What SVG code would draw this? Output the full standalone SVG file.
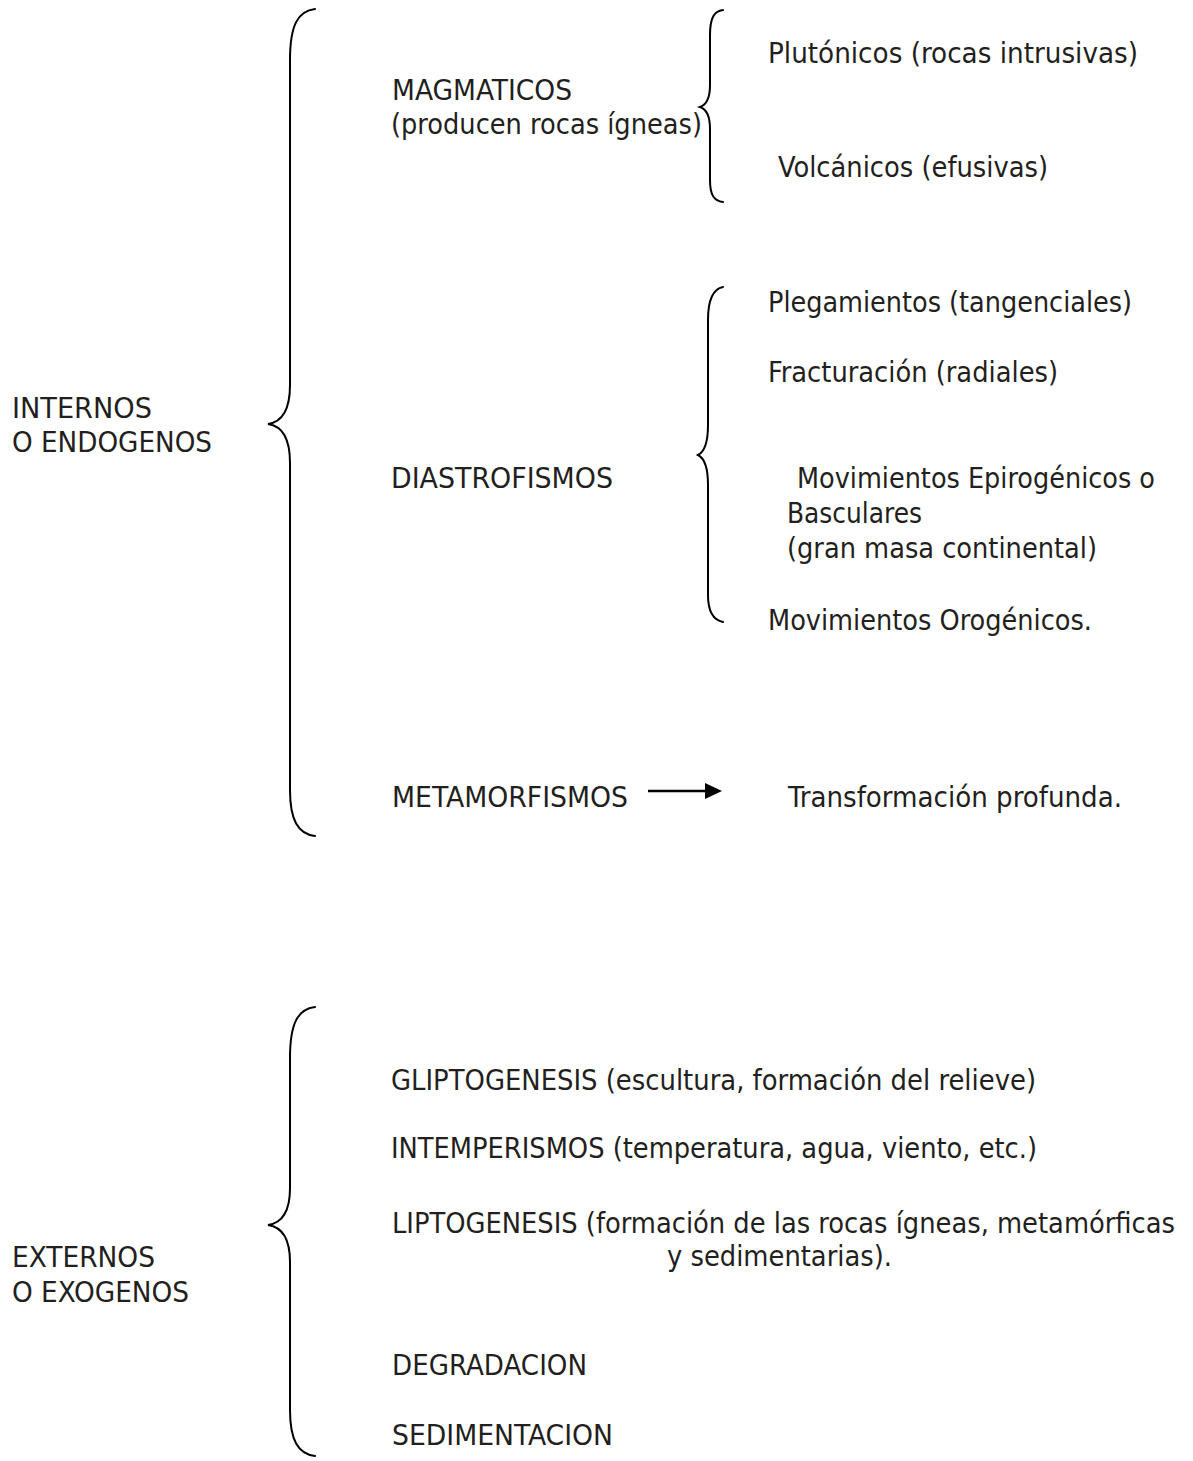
<svg xmlns="http://www.w3.org/2000/svg" width="1193" height="1461" viewBox="0 0 1193 1461">
<style>
text{font-family:"DejaVu Sans Condensed","DejaVu Sans",sans-serif;font-stretch:condensed;font-size:28px;fill:#231f20}
.br{fill:none;stroke:#000;stroke-width:2;stroke-linecap:round}
.ln{fill:none;stroke:#000;stroke-width:2.5}
</style>
<rect width="1193" height="1461" fill="#fff"/>
<g id="internos"><text x="12" y="418" textLength="140" lengthAdjust="spacingAndGlyphs">INTERNOS</text><text x="12" y="452" textLength="200" lengthAdjust="spacingAndGlyphs">O ENDOGENOS</text></g>
<g id="magmaticos"><text x="392" y="100" textLength="180" lengthAdjust="spacingAndGlyphs">MAGMATICOS</text><text x="391" y="134" textLength="311" lengthAdjust="spacingAndGlyphs">(producen rocas ígneas)</text></g>
<g id="plutonicos"><text x="768" y="63" textLength="370" lengthAdjust="spacingAndGlyphs">Plutónicos (rocas intrusivas)</text></g>
<g id="volcanicos"><text x="778" y="177" textLength="270" lengthAdjust="spacingAndGlyphs">Volcánicos (efusivas)</text></g>
<g id="diastrofismos"><text x="391" y="488" textLength="222" lengthAdjust="spacingAndGlyphs">DIASTROFISMOS</text></g>
<g id="plegamientos"><text x="768" y="312" textLength="364" lengthAdjust="spacingAndGlyphs">Plegamientos (tangenciales)</text></g>
<g id="fracturacion"><text x="768" y="382" textLength="290" lengthAdjust="spacingAndGlyphs">Fracturación (radiales)</text></g>
<g id="epirogenicos"><text x="797" y="488" textLength="358" lengthAdjust="spacingAndGlyphs">Movimientos Epirogénicos o</text><text x="787" y="523" textLength="135" lengthAdjust="spacingAndGlyphs">Basculares</text><text x="787" y="558" textLength="310" lengthAdjust="spacingAndGlyphs">(gran masa continental)</text></g>
<g id="orogenicos"><text x="768" y="630" textLength="324" lengthAdjust="spacingAndGlyphs">Movimientos Orogénicos.</text></g>
<g id="metamorfismos"><text x="392" y="807" textLength="236" lengthAdjust="spacingAndGlyphs">METAMORFISMOS</text></g>
<g id="transformacion"><text x="788" y="807" textLength="334" lengthAdjust="spacingAndGlyphs">Transformación profunda.</text></g>
<g id="externos"><text x="12" y="1267" textLength="143" lengthAdjust="spacingAndGlyphs">EXTERNOS</text><text x="12" y="1302" textLength="177" lengthAdjust="spacingAndGlyphs">O EXOGENOS</text></g>
<g id="gliptogenesis"><text x="391" y="1090" textLength="645" lengthAdjust="spacingAndGlyphs">GLIPTOGENESIS (escultura, formación del relieve)</text></g>
<g id="intemperismos"><text x="391" y="1158" textLength="646" lengthAdjust="spacingAndGlyphs">INTEMPERISMOS (temperatura, agua, viento, etc.)</text></g>
<g id="liptogenesis"><text x="392" y="1233" textLength="783" lengthAdjust="spacingAndGlyphs">LIPTOGENESIS (formación de las rocas ígneas, metamórficas</text><text x="667" y="1266" textLength="225" lengthAdjust="spacingAndGlyphs">y sedimentarias).</text></g>
<g id="degradacion"><text x="392" y="1375" textLength="195" lengthAdjust="spacingAndGlyphs">DEGRADACION</text></g>
<g id="sedimentacion"><text x="392" y="1445" textLength="221" lengthAdjust="spacingAndGlyphs">SEDIMENTACION</text></g>
<g id="connectors">
<path class="br" d="M315,9 C298,11 290,25 290,60 L290,385 C290,410 282,422 268,424 C282,426 290,438 290,463 L290,790 C290,820 298,834 315,836"/>
<path class="br" d="M723,10 C714,11 710,18 710,35 L710,85 C710,98 706,105 700,107 C706,109 710,116 710,129 L710,180 C710,195 714,201 723,202"/>
<path class="br" d="M723,287 C713,289 708,300 708,320 L708,425 C708,443 704,452 698,455 C704,458 708,467 708,485 L708,595 C708,612 713,620 723,622"/>
<path class="br" d="M315,1007 C298,1009 290,1023 290,1058 L290,1188 C290,1212 282,1223 268,1225 C282,1227 290,1238 290,1262 L290,1410 C290,1440 298,1454 315,1456"/>
<line class="ln" x1="648" y1="791" x2="706" y2="791"/>
<polygon points="705,783 722,791 705,799" fill="#000"/>
</g>
</svg>
